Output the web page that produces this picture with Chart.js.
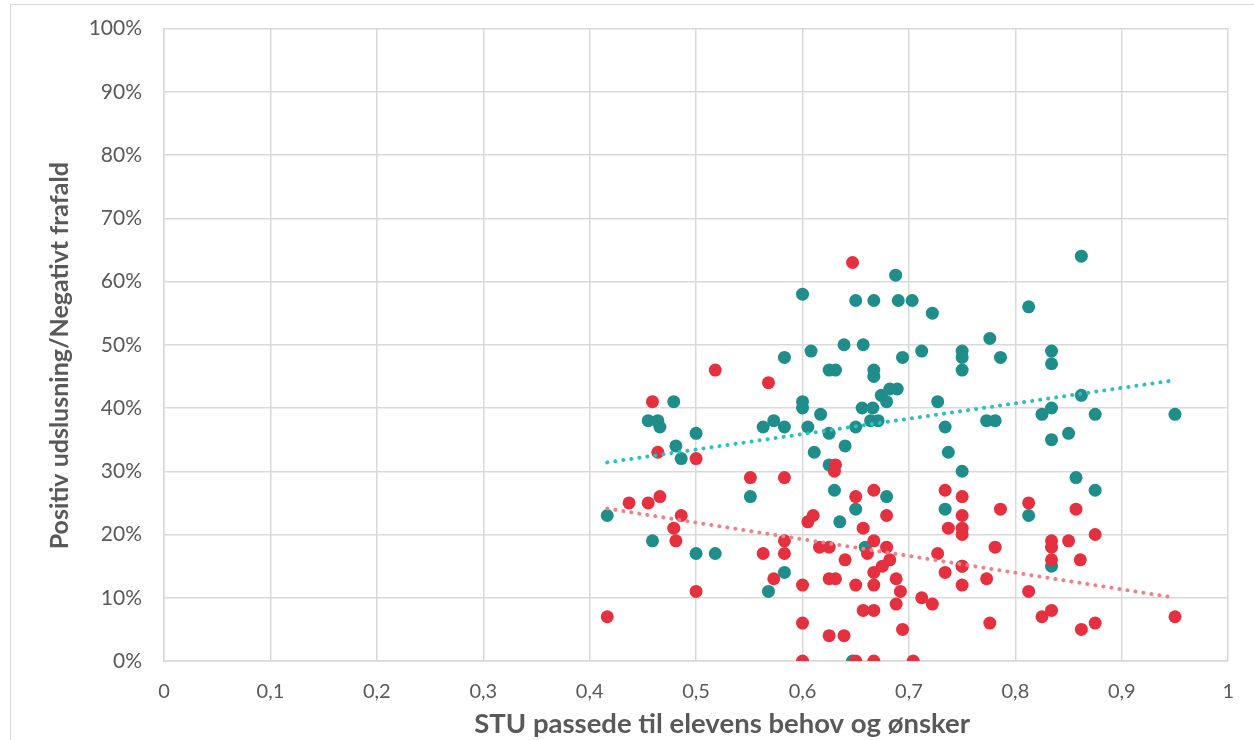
<!DOCTYPE html>
<html>
<head>
<meta charset="utf-8">
<script src="https://cdn.jsdelivr.net/npm/chart.js@4"></script>
<style>
  html, body { margin: 0; padding: 0; background: #fff; }
  #frame {
    position: absolute; left: 10px; top: 4px; width: 1244px; height: 736px;
    border-left: 1.5px solid #d9d9d9; border-top: 1.5px solid #d9d9d9;
    box-sizing: border-box;
  }
  #wrap { position: absolute; left: 0; top: 0; width: 1242px; height: 734px; }
</style>
</head>
<body>
<div id="frame"><div id="wrap"><canvas id="chart"></canvas></div></div>
<script>
// Positiv udslusning (teal)
const posX = [0.4165, 0.455, 0.459, 0.464, 0.466, 0.479, 0.481, 0.486, 0.5, 0.5, 0.518, 0.551, 0.563, 0.568, 0.573,
  0.583, 0.583, 0.583, 0.6, 0.6, 0.6, 0.605, 0.608, 0.611, 0.617, 0.625, 0.631, 0.625, 0.625, 0.63, 0.635, 0.639,
  0.64, 0.65, 0.65, 0.65, 0.647, 0.656, 0.657, 0.659, 0.667, 0.667, 0.667, 0.666, 0.664, 0.671, 0.674, 0.679, 0.682,
  0.689, 0.679, 0.6875, 0.69, 0.694, 0.703, 0.712, 0.722, 0.727, 0.734, 0.734, 0.737, 0.75, 0.75, 0.75, 0.75, 0.75,
  0.776, 0.773, 0.781, 0.786, 0.8125, 0.8125, 0.825, 0.834, 0.834, 0.834, 0.834, 0.834, 0.85, 0.857, 0.862, 0.862,
  0.875, 0.875, 0.95];
const posY = [23, 38, 19, 38, 37, 41, 34, 32, 36, 17, 17, 26, 37, 11, 38,
  48, 37, 14, 58, 41, 40, 37, 49, 33, 39, 46, 46, 36, 31, 27, 22, 50,
  34, 57, 37, 24, 0, 40, 50, 18, 57, 46, 45, 40, 38, 38, 42, 41, 43,
  43, 26, 61, 57, 48, 57, 49, 55, 41, 37, 24, 33, 49, 48, 46, 30, 15,
  51, 38, 38, 48, 56, 23, 39, 49, 47, 40, 35, 15, 36, 29, 64, 42,
  39, 27, 39];

// Negativt frafald (red)
const negX = [0.4165, 0.437, 0.455, 0.459, 0.464, 0.466, 0.479, 0.481, 0.486, 0.5, 0.5, 0.518, 0.551, 0.563, 0.568,
  0.573, 0.583, 0.583, 0.583, 0.6, 0.6, 0.6, 0.605, 0.61, 0.616, 0.625, 0.625, 0.631, 0.625, 0.631, 0.63, 0.639,
  0.64, 0.647, 0.65, 0.65, 0.65, 0.657, 0.657, 0.661, 0.667, 0.667, 0.667, 0.667, 0.667, 0.667, 0.675, 0.679, 0.679,
  0.682, 0.688, 0.688, 0.692, 0.694, 0.704, 0.712, 0.722, 0.727, 0.734, 0.734, 0.737, 0.75, 0.75, 0.75, 0.75, 0.75,
  0.75, 0.773, 0.776, 0.781, 0.786, 0.8125, 0.8125, 0.825, 0.834, 0.834, 0.834, 0.834, 0.85, 0.857, 0.861, 0.862,
  0.875, 0.875, 0.95];
const negY = [7, 25, 25, 41, 33, 26, 21, 19, 23, 32, 11, 46, 29, 17, 44,
  13, 29, 19, 17, 12, 6, 0, 22, 23, 18, 18, 13, 13, 4, 31, 30, 4,
  16, 63, 26, 12, 0, 21, 8, 17, 27, 19, 14, 12, 8, 0, 15, 23, 18,
  16, 13, 9, 11, 5, 0, 10, 9, 17, 27, 14, 21, 26, 23, 21, 20, 15,
  12, 13, 6, 18, 24, 25, 11, 7, 19, 18, 16, 8, 19, 24, 16, 5,
  20, 6, 7];

// linear trendlines (end points)
const trendX = [0.4165, 0.95];
const trendPos = [31.4, 44.4];
const trendNeg = [24.1, 10.0];

const xTicks = ['0', '0,1', '0,2', '0,3', '0,4', '0,5', '0,6', '0,7', '0,8', '0,9', '1'];
const xTitle = 'STU passede til elevens behov og ønsker';
const yTitle = 'Positiv udslusning/Negativt frafald';

const toPts = (xs, ys) => xs.map((x, i) => ({ x: x, y: ys[i] }));

const fontFam = 'Lato, "Open Sans", sans-serif';
const grey = '#595959';

// axis titles are drawn here so they can sit where the original puts them
const axisTitles = {
  id: 'axisTitles',
  afterDraw(chart) {
    const { ctx, chartArea } = chart;
    ctx.save();
    ctx.fillStyle = grey;
    ctx.textAlign = 'center';
    ctx.textBaseline = 'middle';
    ctx.font = 'bold 27.5px ' + fontFam;
    ctx.fillText(xTitle, (chartArea.left + chartArea.right) / 2 + 26, 719);
    ctx.font = 'bold 25px ' + fontFam;
    ctx.translate(48.5, (chartArea.top + chartArea.bottom) / 2 + 11);
    ctx.rotate(-Math.PI / 2);
    ctx.fillText(yTitle, 0, 0);
    ctx.restore();
  }
};

new Chart(document.getElementById('chart'), {
  type: 'scatter',
  data: {
    datasets: [
      {
        label: 'Trend positiv',
        data: toPts(trendX, trendPos),
        showLine: true,
        borderColor: '#2bbfbf',
        borderWidth: 4,
        borderDash: [0.1, 8],
        borderCapStyle: 'round',
        pointRadius: 0,
        order: 0
      },
      {
        label: 'Trend negativ',
        data: toPts(trendX, trendNeg),
        showLine: true,
        borderColor: '#f08088',
        borderWidth: 4,
        borderDash: [0.1, 8],
        borderCapStyle: 'round',
        pointRadius: 0,
        order: 0
      },
      {
        label: 'Negativt frafald',
        data: toPts(negX, negY),
        backgroundColor: '#e5303f',
        borderColor: '#e5303f',
        pointRadius: 6.5,
        borderWidth: 0,
        order: 1
      },
      {
        label: 'Positiv udslusning',
        data: toPts(posX, posY),
        backgroundColor: '#1f8d8a',
        borderColor: '#1f8d8a',
        pointRadius: 6.5,
        borderWidth: 0,
        order: 2
      }
    ]
  },
  options: {
    responsive: true,
    maintainAspectRatio: false,
    animation: false,
    layout: { padding: { top: 23.5, right: 24, bottom: 0, left: 0 } },
    plugins: {
      legend: { display: false },
      tooltip: { enabled: false }
    },
    scales: {
      x: {
        type: 'linear',
        min: 0,
        max: 1,
        ticks: {
          stepSize: 0.1,
          color: grey,
          font: { family: fontFam, size: 20 },
          padding: 19,
          callback: (v, i) => xTicks[i]
        },
        grid: { color: '#d9d9d9', lineWidth: 1.5, drawTicks: false },
        border: { color: '#d9d9d9', width: 1.5 },
        afterFit: (axis) => { axis.height = 78; }
      },
      y: {
        min: 0,
        max: 100,
        ticks: {
          stepSize: 10,
          color: grey,
          font: { family: fontFam, size: 21 },
          padding: 22,
          callback: (v) => v + '%'
        },
        grid: { color: '#d9d9d9', lineWidth: 1.5, drawTicks: false },
        border: { color: '#d9d9d9', width: 1.5 },
        afterFit: (axis) => { axis.width = 153; axis.paddingTop = 0; }
      }
    }
  },
  plugins: [axisTitles]
});
</script>
</body>
</html>
